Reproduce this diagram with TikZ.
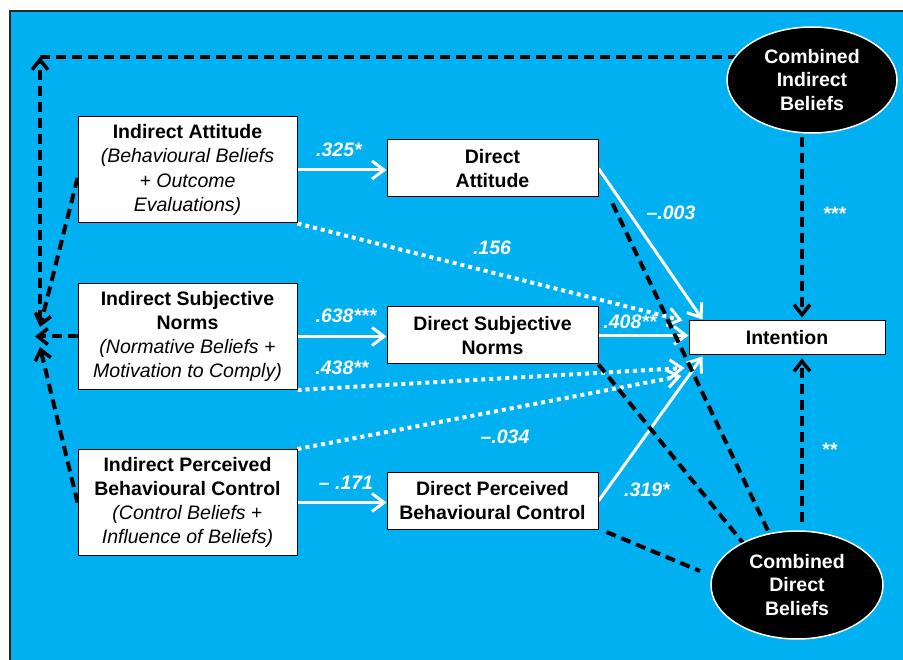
\documentclass[tikz,border=0pt]{standalone}
\usepackage{fontspec}
\setmainfont{Liberation Sans}
\usetikzlibrary{arrows.meta,shapes.geometric,calc,backgrounds}
\definecolor{bgblue}{HTML}{00B0F0}
\begin{document}
\begin{tikzpicture}[x=1pt,y=-1pt,
  font=\fontsize{19.5}{24.3}\selectfont,
  boxbase/.style={draw=black, line width=1pt, fill=white, align=center, inner sep=0pt, text=black},
  bigbox/.style={boxbase, minimum width=219pt, minimum height=106pt},
  midbox/.style={boxbase, minimum width=211pt, minimum height=57pt, font=\fontsize{19.5}{24}\selectfont\bfseries},
  intbox/.style={boxbase, minimum width=196pt, minimum height=34pt, font=\fontsize{19.5}{24}\selectfont\bfseries},
  ellnode/.style={ellipse, fill=black, draw=white, line width=1.5pt, text=white, align=center, inner sep=0pt, font=\fontsize{19.5}{23.5}\selectfont\bfseries},
  lab/.style={text=white, inner sep=0pt, font=\fontsize{19.5}{24}\selectfont\bfseries\itshape},
  wsolid/.style={draw=white, line width=3pt, -{Straight Barb[length=12pt,width=18pt]}},
  wdot/.style={draw=white, line width=4pt, dash pattern=on 4pt off 4pt, -{Straight Barb[length=12pt,width=18pt,line width=3pt]}},
  bdash/.style={draw=black, line width=4pt, dash pattern=on 10pt off 6pt},
  bdasharr/.style={bdash, -{Straight Barb[length=10pt,width=16pt,line width=3.5pt]}}
]
\useasboundingbox (0,0) rectangle (903,660);

% nodes
\node[bigbox] (ia) at (187.5,170) {\textbf{Indirect Attitude}\\\textit{(Behavioural Beliefs}\\\textit{+ Outcome}\\\textit{Evaluations)}};
\node[bigbox] (isn) at (187.5,336.5) {\textbf{Indirect Subjective}\\\textbf{Norms}\\\textit{(Normative Beliefs +}\\\textit{Motivation to Comply)}};
\node[bigbox] (ipbc) at (187.5,502.5) {\textbf{Indirect Perceived}\\\textbf{Behavioural Control}\\\textit{(Control Beliefs} +\\\textit{Influence of Beliefs)}};
\node[midbox] (da) at (492.5,168.5) {Direct\\Attitude};
\node[midbox] (dsn) at (492.5,335.5) {Direct Subjective\\Norms};
\node[midbox] (dpbc) at (492.5,501) {Direct Perceived\\Behavioural Control};
\node[intbox] (int) at (787,338) {Intention};
\node[ellnode, minimum width=170pt, minimum height=106pt] (cib) at (812,80) {Combined\\Indirect\\Beliefs};
\node[ellnode, minimum width=172pt, minimum height=108pt] (cdb) at (797,585) {Combined\\Direct\\Beliefs};

% labels
\node[lab] (l1) at (339,150) {.325*};
\node[lab] (l2) at (346,316) {.638***};
\node[lab] (l3) at (342,368) {.438**};
\node[lab] (l4) at (346,483) {– .171};
\node[lab] (l5) at (492,248) {.156};
\node[lab] (l6) at (505,437) {–.034};
\node[lab] (l7) at (671,213) {–.003};
\node[lab] (l8) at (630,322) {.408**};
\node[lab] (l9) at (647,490) {.319*};
\node[lab, font=\fontsize{19.5}{24}\selectfont\bfseries] (l10) at (835,214) {***};
\node[lab, font=\fontsize{19.5}{24}\selectfont\bfseries] (l11) at (830,450) {**};

\coordinate (tl) at (40,57);
\coordinate (vs) at (40,320);
\coordinate (ca) at (40,327);
\coordinate (cs) at (35,336.5);
\coordinate (cp) at (40,347);

\begin{scope}[on background layer]
\fill[bgblue] (10,11) rectangle (903,660);
\draw[line width=1.5pt, black!85] (10,660) -- (10,11) -- (903,11);

% solid white arrows
\draw[wsolid] (ia.east) -- (ia.east -| da.west);
\draw[wsolid] (isn.east) -- (isn.east -| dsn.west);
\draw[wsolid] (ipbc.east) -- (ipbc.east -| dpbc.west);
\draw[wsolid] (da.east) -- ($(int.north west)+(14,-1)$);
\draw[wsolid] (dsn.east) -- (dsn.east -| int.west);
\draw[wsolid] (dpbc.east) -- ($(int.south west)+(14,1)$);

% dotted white arrows
\draw[wdot] (ia.south east) -- ($(int.north west)+(-6,0)$);
\draw[wdot] (isn.south east) -- ($(int.west)+(-4,30)$);
\draw[wdot] (ipbc.north east) -- ($(int.west)+(-7,38)$);

% black dashed to combined direct beliefs
\draw[bdash] ($(da.south east)+(14,6)$) -- ($(cdb.center)+(-27,-50)$);
\draw[bdash] (dsn.south east) -- ($(cdb.center)+(-54,-42)$);
\draw[bdash] ($(dpbc.south east)+(8,2)$) -- ($(cdb.center)+(-97,-14)$);

% combined beliefs to intention
\draw[bdasharr] ($(cib.south)+(-10,3)$) -- ($(int.north)+(15,-3)$);
\draw[bdasharr] ($(cdb.north)+(5,-8)$) -- ($(int.south)+(15,3)$);

% indirect to combined indirect beliefs
\draw[bdasharr] ($(ia.west)+(0,8)$) -- (ca);
\draw[bdasharr] (isn.west) -- (cs);
\draw[bdasharr] (ipbc.west) -- (cp);
\draw[bdasharr] (vs) -- (tl);
\draw[bdash] (tl) -- (tl -| cib.center);
\end{scope}
\end{tikzpicture}
\end{document}
